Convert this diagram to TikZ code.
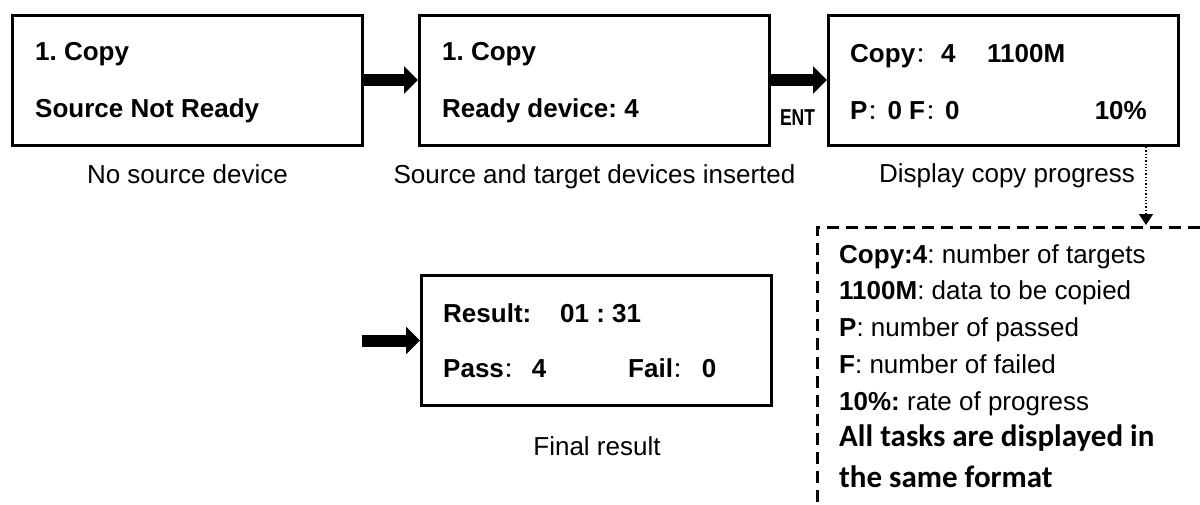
\documentclass[tikz,border=0pt]{standalone}
\usepackage{fontspec}
\setmainfont{Liberation Sans}
\newfontfamily\carlito{Carlito}
\newfontfamily\cjk{Noto Sans CJK SC}
\usetikzlibrary{arrows.meta}
\newcommand\fcol[1]{\makebox[#1][l]{\fontsize{22}{26}\selectfont\mdseries\cjk ：}}
\frenchspacing
\begin{document}
\begin{tikzpicture}[x=1pt,y=-1pt,
  lcd/.style={draw,line width=3pt,minimum width=350pt,minimum height=130pt,inner sep=0pt},
  lcdtxt/.style={anchor=base west,inner sep=0pt,font=\fontsize{26}{31}\selectfont\bfseries},
  lcdtxtr/.style={lcdtxt,anchor=base east},
  captxt/.style={anchor=base,inner sep=0pt,font=\fontsize{26}{31}\selectfont},
  note/.style={anchor=base west,inner sep=0pt,font=\fontsize{26}{31}\selectfont},
  notecal/.style={anchor=base west,inner sep=0pt,font=\fontsize{31}{37}\selectfont\carlito\bfseries},
  bigarrow/.style={line width=12pt,-{Triangle[length=14pt,width=27pt]}},
  dotarrow/.style={line width=1.3pt,dotted,-{Triangle[length=11pt,width=14pt]}},
  dashline/.style={line width=3pt,dash pattern=on 12pt off 7pt}
]
\useasboundingbox (0,0) rectangle (1200,504);

% LCD boxes
\node[lcd] (b1) at (187.5,80) {};
\node[lcd] (b2) at (594.5,80) {};
\node[lcd] (b3) at (1003.5,80) {};
\node[lcd] (b4) at (596.5,340.5) {};

% box 1 text
\node[lcdtxt] (t11) at (35,60) {1. Copy};
\node[lcdtxt] (t12) at (35,117) {Source Not Ready};
% box 2 text
\node[lcdtxt] (t21) at (442,60) {1. Copy};
\node[lcdtxt] (t22) at (442,117) {Ready device: 4};
% box 3 text
\node[lcdtxt] (t31) at (850,62) {Copy\fcol{26pt}4};
\node[lcdtxt] (t32) at (987,62) {1100M};
\node[lcdtxt] (t33) at (850,119) {P\fcol{20pt}0 F\fcol{20pt}0};
\node[lcdtxtr] (t34) at (1147,119) {10\%};
% box 4 text
\node[lcdtxt] (t41) at (443,322) {Result:};
\node[lcdtxt] (t42) at (560,322) {01 : 31};
\node[lcdtxt] (t43) at (443,377) {Pass\fcol{28pt}4};
\node[lcdtxt] (t44) at (628,377) {Fail\fcol{29pt}0};

% captions
\node[captxt] (c1) at (187.5,183) {No source device};
\node[captxt] (c2) at (594.5,183) {Source and target devices inserted};
\node[captxt] (c3) at (1007,182) {Display copy progress};
\node[captxt] (c4) at (597,455) {Final result};

% ENT label
\node[anchor=base,inner sep=0pt,font=\fontsize{23}{27}\selectfont\bfseries] (ent) at (797.5,125) {\scalebox{0.76}[1]{ENT}};

% arrows
\draw[bigarrow] (b1.east) -- (b2.west);
\draw[bigarrow] (b2.east) -- (b3.west);
\coordinate (a4s) at (362,340.5);
\draw[bigarrow] (a4s) -- (b4.west);

% dotted arrow to notes
\coordinate (dtop) at (1146,147);
\coordinate (dbot) at (1146,225);
\draw[dotarrow] (dtop) -- (dbot);

% dashed note frame
\coordinate (nr) at (1200,227);
\coordinate (nc) at (817,227);
\coordinate (nb) at (817,504);
\draw[dashline] (nr) -- (nc) -- (nb);

% notes
\node[note] (n1) at (839,263) {\textbf{Copy:4}: number of targets};
\node[note] (n2) at (839,299) {\textbf{1100M}: data to be copied};
\node[note] (n3) at (839,336) {\textbf{P}: number of passed};
\node[note] (n4) at (839,373) {\textbf{F}: number of failed};
\node[note] (n5) at (839,410) {\textbf{10\%:} rate of progress};
\node[notecal] (n6) at (839,446) {All tasks are displayed in};
\node[notecal] (n7) at (839,487) {the same format};
\end{tikzpicture}
\end{document}
